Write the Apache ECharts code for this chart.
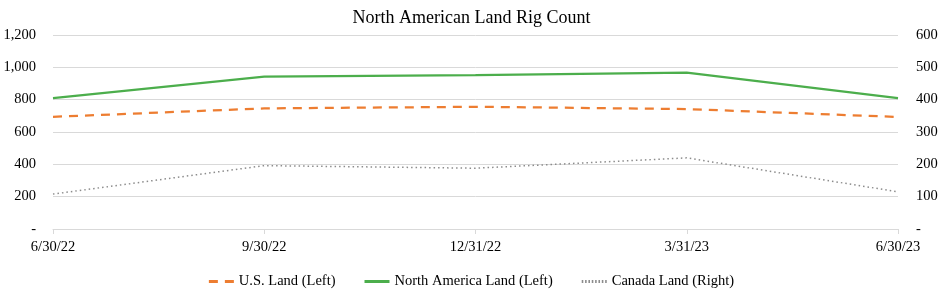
<!DOCTYPE html>
<html><head><meta charset="utf-8">
<script src="https://cdn.jsdelivr.net/npm/echarts@6/dist/echarts.min.js"></script>
<style>html,body{margin:0;padding:0;background:#fff}#c{width:943px;height:289px}</style>
</head><body><div id="c"></div>
<script>
var categories = ['6/30/22', '9/30/22', '12/31/22', '3/31/23', '6/30/23'];
var usLand = [694, 746, 756, 742, 693];
var naLand = [810, 942, 952, 967, 810];
var canadaLand = [108, 196, 188, 220, 115];
var leftTicks = [0, 200, 400, 600, 800, 1000, 1200];
var rightTicks = [0, 100, 200, 300, 400, 500, 600];

var font = '"Liberation Serif", "Times New Roman", serif';
function fmt(v){ return v === 0 ? '-' : v.toLocaleString('en-US'); }
var dotPath = 'path://';
for (var i = 0; i < 8; i++) { dotPath += 'M' + (i * 3.4) + ',0h1.6v1.6h-1.6z'; }
var chart = echarts.init(document.getElementById('c'));
chart.setOption({
  animation: false,
  textStyle: { fontFamily: font },
  title: { text: 'North American Land Rig Count', left: 'center', top: 4,
    textStyle: { fontFamily: font, fontSize: 18, fontWeight: 'normal', color: '#000' } },
  legend: { top: 269, left: 'center', itemGap: 29, itemWidth: 25, itemHeight: 3, symbolKeepAspect: false,
    textStyle: { fontFamily: font, fontSize: 14.5, color: '#000', padding: [0, 0, 0, 0] },
    itemStyle: { borderWidth: 0 }, lineStyle: { width: 0, opacity: 0 },
    data: [
      { name: 'U.S. Land (Left)', icon: 'path://M0,0h9v3h-9z M16,0h9v3h-9z' },
      { name: 'North America Land (Left)', icon: 'path://M0,0.5h25v2h-25z' },
      { name: 'Canada Land (Right)', icon: dotPath }
    ] },
  grid: { left: 53, right: 45, top: 35, bottom: 60 },
  xAxis: { type: 'category', data: categories, boundaryGap: false,
    axisLine: { lineStyle: { color: '#d9d9d9' } },
    axisTick: { show: true, length: 5, lineStyle: { color: '#d9d9d9' } },
    axisLabel: { color: '#000', fontFamily: font, fontSize: 14.5, margin: 11 } },
  yAxis: [
    { type: 'value', min: 0, max: 1200, interval: 200,
      axisLine: { show: false }, axisTick: { show: false },
      splitLine: { lineStyle: { color: '#d9d9d9' } },
      axisLabel: { color: '#000', fontFamily: font, fontSize: 14.5, margin: 17, formatter: fmt } },
    { type: 'value', min: 0, max: 600, interval: 100,
      axisLine: { show: false }, axisTick: { show: false }, splitLine: { show: false },
      axisLabel: { color: '#000', fontFamily: font, fontSize: 14.5, margin: 18, formatter: fmt } }
  ],
  series: [
    { name: 'U.S. Land (Left)', type: 'line', data: usLand, yAxisIndex: 0, symbol: 'none',
      itemStyle: { color: '#ed7d31' },
      lineStyle: { color: '#ed7d31', width: 2.25, type: [9, 7] } },
    { name: 'North America Land (Left)', type: 'line', data: naLand, yAxisIndex: 0, symbol: 'none',
      itemStyle: { color: '#4cae4c' },
      lineStyle: { color: '#4cae4c', width: 2.25 } },
    { name: 'Canada Land (Right)', type: 'line', data: canadaLand, yAxisIndex: 1, symbol: 'none',
      itemStyle: { color: '#8c8c8c' },
      lineStyle: { color: '#8c8c8c', width: 1.5, type: [1.5, 3] } }
  ]
});
</script></body></html>
